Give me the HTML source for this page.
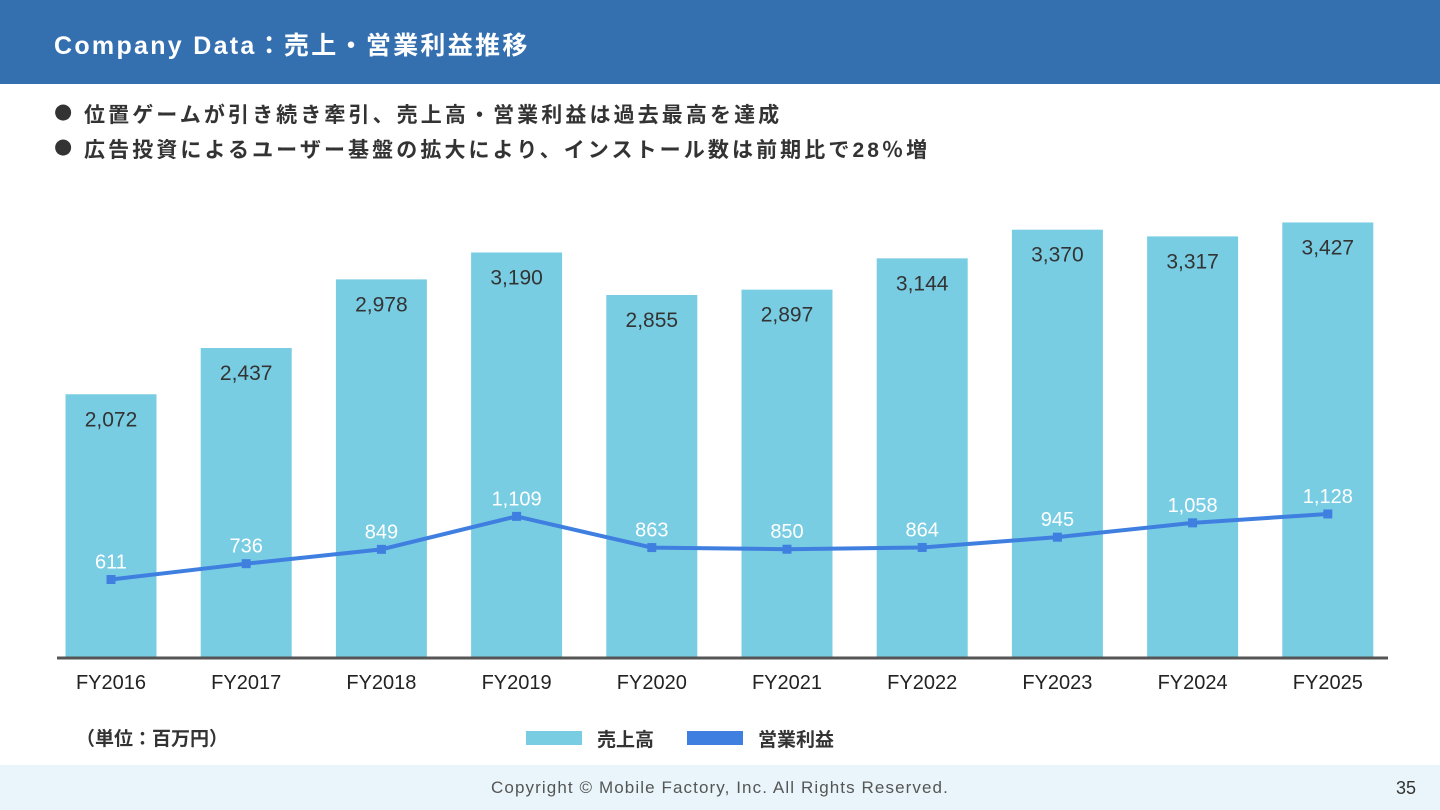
<!DOCTYPE html>
<html><head><meta charset="utf-8">
<style>
body{margin:0;width:1440px;height:810px;position:relative;overflow:hidden;background:#fff;font-family:"Liberation Sans","Noto Sans CJK JP",sans-serif;}
#hdr{position:absolute;left:0;top:0;width:1440px;height:84px;background:#3470b0;}
#title{position:absolute;left:54px;top:26px;color:#fff;font-size:25px;font-weight:bold;letter-spacing:2.3px;}
.bul{position:absolute;left:84px;font-size:21px;color:#333;font-weight:bold;letter-spacing:3.1px;}
.dot{position:absolute;left:54px;font-size:21px;color:#333;font-family:"DejaVu Sans",sans-serif;}
#foot{position:absolute;left:0;top:765px;width:1440px;height:45px;background:#e9f5fa;}
#copy{position:absolute;left:0;width:1440px;top:778px;text-align:center;font-size:17px;color:#555;letter-spacing:1.1px;}
#pg{position:absolute;left:1396px;top:778px;font-size:18px;color:#333;}
</style></head><body>
<div id="hdr"></div>
<div id="title">Company Data：売上・営業利益推移</div>
<div class="dot" style="top:99px">●</div>
<div class="bul" style="top:99px">位置ゲームが引き続き牽引、売上高・営業利益は過去最高を達成</div>
<div class="dot" style="top:134px">●</div>
<div class="bul" style="top:134px">広告投資によるユーザー基盤の拡大により、インストール数は前期比で28％増</div>
<svg id="chart" width="1440" height="810" style="position:absolute;left:0;top:0"></svg>
<div id="foot"></div>
<div id="copy">Copyright © Mobile Factory, Inc. All Rights Reserved.</div>
<div id="pg">35</div>
<script>
const categories=["FY2016","FY2017","FY2018","FY2019","FY2020","FY2021","FY2022","FY2023","FY2024","FY2025"];
const sales=[2072,2437,2978,3190,2855,2897,3144,3370,3317,3427];
const profit=[611,736,849,1109,863,850,864,945,1058,1128];
const salesLabels=["2,072","2,437","2,978","3,190","2,855","2,897","3,144","3,370","3,317","3,427"];
const profitLabels=["611","736","849","1,109","863","850","864","945","1,058","1,128"];
const svg=document.getElementById('chart');
const NS="http://www.w3.org/2000/svg";
const base=657,scale=0.1268;
function y(v){return base-v*scale;}
function x(i){return 111+i*135.2;}
function mk(t,a){const e=document.createElementNS(NS,t);for(const k in a)e.setAttribute(k,a[k]);svg.appendChild(e);return e;}
const bw=91;
categories.forEach((c,i)=>{
 const r=mk('rect',{x:x(i)-bw/2,y:y(sales[i]),width:bw,height:base-y(sales[i]),fill:'#78cde3'});
 
 
 const t=mk('text',{x:x(i),y:y(sales[i])+32,'text-anchor':'middle','font-size':'21',fill:'#333'});
 t.textContent=salesLabels[i];
 
 
 const xl=mk('text',{x:x(i),y:689,'text-anchor':'middle','font-size':'20',fill:'#222'});
 xl.textContent=c;
 
 
});
const ax=mk('line',{x1:57,x2:1388,y1:base+1,y2:base+1,stroke:'#555','stroke-width':3});


const pts=profit.map((v,i)=>x(i)+','+y(v)).join(' ');
const pl=mk('polyline',{points:pts,fill:'none',stroke:'#3f7fe0','stroke-width':4});


profit.forEach((v,i)=>{
 const m=mk('rect',{x:x(i)-4.5,y:y(v)-4.5,width:9,height:9,fill:'#3f7fe0'});
 
 
 const t=mk('text',{x:x(i),y:y(v)-11,'text-anchor':'middle','font-size':'20',fill:'#fff'});
 t.textContent=profitLabels[i];
 
 
});
const u=mk('text',{x:76,y:745,'font-size':'19',fill:'#333','font-weight':'bold'});u.textContent='（単位：百万円）';


const s1=mk('rect',{x:526,y:731,width:56,height:14,fill:'#78cde3'});


const l1=mk('text',{x:597,y:746,'font-size':'19',fill:'#333','font-weight':'bold'});l1.textContent='売上高';


const s2=mk('rect',{x:687,y:731,width:56,height:14,fill:'#3f7fe0'});


const l2=mk('text',{x:758,y:746,'font-size':'19',fill:'#333','font-weight':'bold'});l2.textContent='営業利益';


</script>
</body></html>
